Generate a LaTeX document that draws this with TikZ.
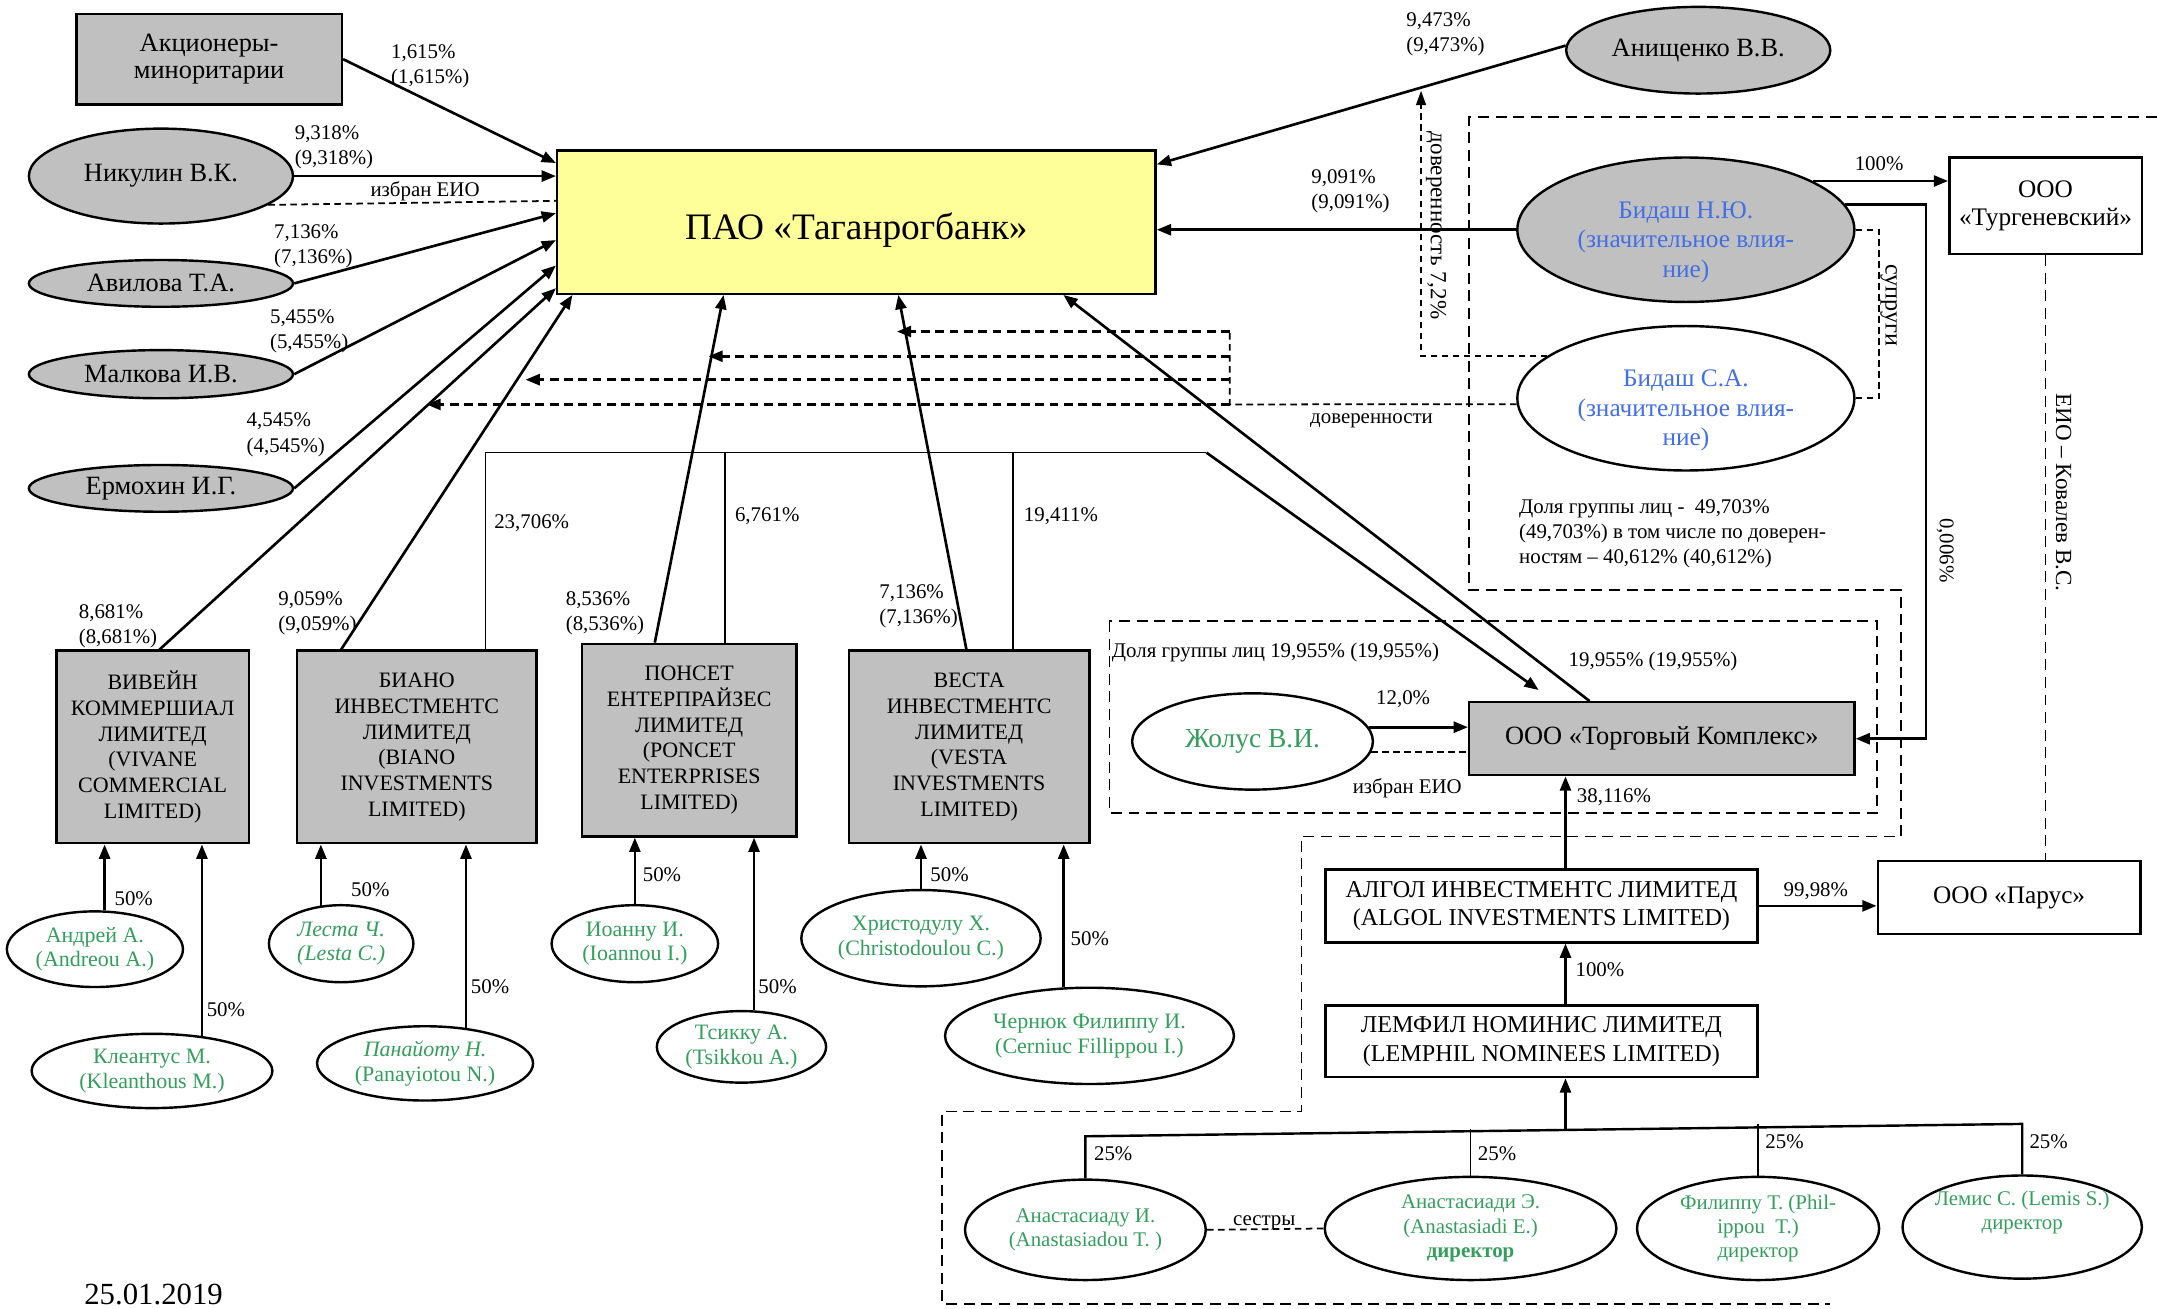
\documentclass[tikz,border=0pt]{standalone}
\usepackage{fontspec}
\setmainfont{Liberation Serif}
\usepackage{tikz}
\usetikzlibrary{shapes.geometric}
\usetikzlibrary{arrows.meta}

\definecolor{boxgray}{RGB}{192,192,192}
\definecolor{paoyellow}{RGB}{255,255,153}
\definecolor{ngreen}{RGB}{52,158,92}
\definecolor{nblue}{RGB}{66,110,230}

\newcommand{\pxu}{0.022cm}

\tikzset{
  grbox/.style={draw=black, line width=1.1pt, fill=boxgray, rectangle, align=center, inner sep=0pt, font=\fontsize{10}{11.7}\selectfont},
  wbox/.style={draw=black, line width=1.1pt, fill=white, rectangle, align=center, inner sep=0pt, font=\fontsize{11.5}{13}\selectfont},
  paobox/.style={draw=black, line width=1.1pt, fill=paoyellow, rectangle, inner sep=0pt},
  paotext/.style={font=\fontsize{17}{20}\selectfont, yshift=-5.5*\pxu},
  pers/.style={draw=black, line width=1.1pt, fill=boxgray, ellipse, align=center, inner xsep=-8pt, inner ysep=-2pt, font=\fontsize{12}{14}\selectfont},
  bidtext/.style={text=nblue, align=center, font=\fontsize{11.5}{13.5}\selectfont, yshift=-9*\pxu},
  own/.style={draw=black, line width=1.1pt, fill=white, ellipse, align=center, inner xsep=-8pt, inner ysep=-2pt, text=ngreen, font=\fontsize{10}{11.2}\selectfont},
  pct/.style={align=left, inner sep=0pt, font=\fontsize{9.5}{11.5}\selectfont},
  arr/.style={line width=1.2pt, -{Triangle[length=6.5pt,width=5pt]}},
  plainline/.style={line width=0.75pt},
  grpline/.style={line width=0.75pt, dash pattern=on 5pt off 3pt},
  dovarr/.style={line width=1.25pt, dash pattern=on 4pt off 2.5pt, -{Triangle[length=6.5pt,width=5pt]}},
  eioline/.style={line width=0.8pt, dash pattern=on 3pt off 2pt},
  eioarr/.style={line width=0.8pt, dash pattern=on 3pt off 2pt, -{Triangle[length=6.5pt,width=4.5pt]}}
}

\begin{document}
\begin{tikzpicture}[x=0.022cm, y=-0.022cm]
  \useasboundingbox (0,0) rectangle (1568,951);

  \node[grbox, font=\fontsize{12}{12.6}\selectfont, minimum width=193*\pxu, minimum height=66*\pxu] (minor) at (152,43) {Акционеры-\\миноритарии};
  \node[pers, minimum width=192*\pxu, minimum height=69*\pxu] (nik) at (117,128) {Никулин В.К.};
  \node[pers, minimum width=192*\pxu, minimum height=34*\pxu] (avil) at (117,206) {Авилова Т.А.};
  \node[pers, minimum width=192*\pxu, minimum height=35*\pxu] (malk) at (117,272) {Малкова И.В.};
  \node[pers, minimum width=192*\pxu, minimum height=34*\pxu] (erm) at (117,355) {Ермохин И.Г.};

  \node[paobox, minimum width=435*\pxu, minimum height=104*\pxu, label={[paotext]center:ПАО «Таганрогбанк»}] (pao) at (622.5,161.5) {};

  \node[pers, minimum width=192*\pxu, minimum height=63*\pxu] (anis) at (1234.5,36.5) {Анищенко В.В.};
  \node[pers, minimum width=245*\pxu, minimum height=105*\pxu, label={[bidtext]center:Бидаш Н.Ю.\\(значительное влия-\\ние)}] (bnu) at (1225.5,167) {};
  \node[pers, fill=white, minimum width=245*\pxu, minimum height=105*\pxu, label={[bidtext]center:Бидаш С.А.\\(значительное влия-\\ние)}] (bsa) at (1225.5,289.5) {};
  \node[wbox, minimum width=140*\pxu, minimum height=70*\pxu] (turg) at (1487,149.5) {ООО\\«Тургеневский»};

  \node[grbox, minimum width=140*\pxu, minimum height=140*\pxu] (viv) at (111,543) {ВИВЕЙН\\КОММЕРШИАЛ\\ЛИМИТЕД\\(VIVANE\\COMMERCIAL\\LIMITED)};
  \node[grbox, minimum width=174*\pxu, minimum height=140*\pxu] (bian) at (303,543) {БИАНО\\ИНВЕСТМЕНТС\\ЛИМИТЕД\\(BIANO\\INVESTMENTS\\LIMITED)};
  \node[grbox, minimum width=156*\pxu, minimum height=140*\pxu] (pons) at (501,538) {ПОНСЕТ\\ЕНТЕРПРАЙЗЕС\\ЛИМИТЕД\\(PONCET\\ENTERPRISES\\LIMITED)};
  \node[grbox, minimum width=175*\pxu, minimum height=140*\pxu] (vest) at (704.5,543) {ВЕСТА\\ИНВЕСТМЕНТС\\ЛИМИТЕД\\(VESTA\\INVESTMENTS\\LIMITED)};

  \node[own, minimum width=128*\pxu, minimum height=55*\pxu] (andr) at (69,690) {Андрей А.\\(Andreou A.)};
  \node[own, minimum width=175*\pxu, minimum height=54*\pxu] (klean) at (110.5,778.5) {Клеантус М.\\(Kleanthous M.)};
  \node[own, minimum width=105*\pxu, minimum height=56*\pxu] (lesta) at (248,686) {\textit{Леста Ч.}\\\textit{(Lesta C.)}};
  \node[own, minimum width=157*\pxu, minimum height=54*\pxu] (panai) at (309,773) {\textit{Панайоту Н.}\\(Panayiotou N.)};
  \node[own, minimum width=121*\pxu, minimum height=56*\pxu] (ioan) at (461.5,686) {Иоанну И.\\(Ioannou I.)};
  \node[own, minimum width=123*\pxu, minimum height=52*\pxu] (tsik) at (539,761) {Тсикку А.\\(Tsikkou A.)};
  \node[own, minimum width=174*\pxu, minimum height=70*\pxu] (hrist) at (669.5,682) {Христодулу Х.\\(Christodoulou C.)};
  \node[own, minimum width=210*\pxu, minimum height=70*\pxu] (chern) at (792,753) {Чернюк Филиппу И.\\(Cerniuc Fillippou I.)};

  \node[grbox, font=\fontsize{12}{14}\selectfont, minimum width=280*\pxu, minimum height=53*\pxu] (tk) at (1208,537) {ООО «Торговый Комплекс»};
  \node[own, font=\fontsize{12.5}{14}\selectfont, minimum width=175*\pxu, minimum height=70*\pxu] (zhol) at (910.5,539) {Жолус В.И.};
  \node[wbox, font=\fontsize{11}{13}\selectfont, minimum width=314*\pxu, minimum height=53*\pxu] (algol) at (1120.5,658.5) {АЛГОЛ ИНВЕСТМЕНТС ЛИМИТЕД\\(ALGOL INVESTMENTS LIMITED)};
  \node[wbox, minimum width=191*\pxu, minimum height=53*\pxu] (parus) at (1460.5,652.5) {ООО «Парус»};
  \node[wbox, font=\fontsize{11}{13}\selectfont, minimum width=314*\pxu, minimum height=52*\pxu] (lemf) at (1120.5,757) {ЛЕМФИЛ НОМИНИС ЛИМИТЕД\\(LEMPHIL NOMINEES LIMITED)};

  \node[own, font=\fontsize{9.5}{11}\selectfont, minimum width=175*\pxu, minimum height=73*\pxu] (anastI) at (789,894) {Анастасиаду И.\\(Anastasiadou T. )};
  \node[own, font=\fontsize{9.5}{11}\selectfont, minimum width=212*\pxu, minimum height=75*\pxu] (anastE) at (1069,893) {Анастасиади Э.\\(Anastasiadi E.)\\\textbf{директор}};
  \node[own, font=\fontsize{9.5}{11}\selectfont, minimum width=176*\pxu, minimum height=75*\pxu] (filip) at (1278,893) {Филиппу Т. (Phil-\\ippou~ T.)\\директор};
  \node[own, font=\fontsize{9.5}{11}\selectfont, minimum width=174*\pxu, minimum height=75*\pxu] (lemis) at (1470,892) {Лемис С. (Lemis S.)\\директор\\[4pt]};

  \coordinate (brL) at (353,329);
  \coordinate (brP) at (527,329);
  \coordinate (brV) at (736.6,329);
  \coordinate (brR) at (877,329);
  \coordinate (dv1) at (652,241);
  \coordinate (dv2) at (515,259);
  \coordinate (dv3) at (382,276);
  \coordinate (dv4) at (310,294);
  \coordinate (dvk) at (894,294);
  \coordinate (d72t) at (1033,66);
  \coordinate (q6) at (1400,150);
  \coordinate (stem) at (1138,821);
  \coordinate (treeL) at (789,826);
  \coordinate (treeR) at (1470,817);

  \draw[grpline] (1568,85) -- (1068,85) -- (1068,429) -- (1382,429) -- (1382,608) -- (946,608) -- (946,808) -- (685,808) -- (685,948) -- (1330,948);
  \draw[grpline] (806.5,451.5) rectangle (1364.5,591);

  \draw[arr] (minor.east) -- ([yshift=43*\pxu]pao.west);
  \draw[arr] (nik.east) -- (nik.east -| pao.west);
  \draw[eioline] (nik.-15) -- ([yshift=15.5*\pxu]pao.west);
  \draw[arr] (avil.east) -- ([yshift=6.5*\pxu]pao.west);
  \draw[arr] (malk.east) -- ([yshift=-13*\pxu]pao.west);
  \draw[arr] (erm.east) -- ([yshift=-31.5*\pxu]pao.west);
  \draw[arr] ([xshift=5*\pxu]viv.north) -- ([yshift=-48*\pxu]pao.west);
  \draw[arr] ([xshift=-55*\pxu]bian.north) -- ([xshift=12*\pxu]pao.south west);
  \draw[arr] ([xshift=-25*\pxu]pons.north) -- ([xshift=-96.5*\pxu]pao.south);
  \draw[arr] ([xshift=-2*\pxu]vest.north) -- ([xshift=30.5*\pxu]pao.south);
  \draw[arr] ([xshift=-52.5*\pxu]tk.north) -- ([xshift=150.5*\pxu]pao.south);
  \draw[arr] (anis.178) -- ([yshift=42*\pxu]pao.east);
  \draw[arr] (bnu.west) -- (bnu.west -| pao.east);

  \draw[plainline] (bian.north -| brL) -- (brL) -- (brR);
  \draw[plainline] (brP) -- (brP |- pons.north);
  \draw[plainline] (brV) -- (brV |- vest.north);
  \draw[arr] (brR) -- ([xshift=-89.5*\pxu, yshift=8*\pxu]tk.north);

  \draw[eioline] (bsa.182) -- (dvk) -- (dvk |- dv1);
  \draw[dovarr] (dvk) -- (dv4);
  \draw[dovarr] (dvk |- dv3) -- (dv3);
  \draw[dovarr] (dvk |- dv2) -- (dv2);
  \draw[dovarr] (dvk |- dv1) -- (dv1);
  \draw[eioarr] (bsa.163) -- (bsa.163 -| d72t) -- (d72t);
  \draw[eioline] (bnu.east) -- ++(17,0) |- (bsa.east);

  \draw[arr] (bnu.21) -- (bnu.21 -| turg.west);
  \draw[arr] (bnu.9) -- (bnu.9 -| q6) |- (tk.east);
  \draw[grpline] (turg.south) -- (turg.south |- parus.north);

  \draw[arr] (andr.76) -- (andr.76 |- viv.south);
  \draw[arr] (klean.35) -- (klean.35 |- viv.south);
  \draw[arr] (lesta.118) -- (lesta.118 |- bian.south);
  \draw[arr] (panai.41) -- (panai.41 |- bian.south);
  \draw[arr] (ioan.north) -- (ioan.north |- pons.south);
  \draw[arr] (tsik.71) -- (tsik.71 |- pons.south);
  \draw[arr] (hrist.north) -- (hrist.north |- vest.south);
  \draw[arr] (chern.118) -- (chern.118 |- vest.south);

  \draw[arr] (zhol.7) -- (zhol.7 -| tk.west);
  \draw[eioline] (zhol.-5) -- (zhol.-5 -| tk.west);
  \draw[arr] (algol.north -| stem) -- (tk.south -| stem);
  \draw[arr] (lemf.north -| stem) -- (algol.south -| stem);
  \draw[arr] (algol.east) -- (algol.east -| parus.west);
  \draw[arr] (stem) -- (lemf.south -| stem);

  \draw[line width=1.1pt] (anastI.north) -- (treeL) -- (treeR) -- (lemis.north);
  \draw[plainline] (anastE.north) -- (anastE.north |- stem);
  \draw[plainline] (filip.north) -- (filip.north |- treeR);
  \draw[eioline] (anastI.east) -- (anastE.west);

  \node[pct, anchor=west] (pMin) at (284,48) {1,615\%\\(1,615\%)};
  \node[pct, anchor=west] (pNik) at (214,107) {9,318\%\\(9,318\%)};
  \node[pct] (pEio) at (309,139) {избран ЕИО};
  \node[pct, anchor=west] (pAvil) at (199,179) {7,136\%\\(7,136\%)};
  \node[pct, anchor=west] (pMalk) at (196,241) {5,455\%\\(5,455\%)};
  \node[pct, anchor=west] (pErm) at (179,316) {4,545\%\\(4,545\%)};
  \node[pct, anchor=west] (pViv) at (57,455) {8,681\%\\(8,681\%)};
  \node[pct, anchor=west] (pBian) at (202,446) {9,059\%\\(9,059\%)};
  \node[pct, anchor=west] (pPons) at (411,446) {8,536\%\\(8,536\%)};
  \node[pct, anchor=west] (pVest) at (639,440.5) {7,136\%\\(7,136\%)};
  \node[pct, anchor=west] (pBrB) at (359,380.5) {23,706\%};
  \node[pct, anchor=west] (pBrP) at (534,375.5) {6,761\%};
  \node[pct, anchor=west] (pBrV) at (744,375.5) {19,411\%};
  \node[pct, anchor=west] (pAnis) at (1022,25) {9,473\%\\(9,473\%)};
  \node[pct, anchor=west] (pBnu) at (953,139) {9,091\%\\(9,091\%)};
  \node[pct] (p100) at (1366,119) {100\%};
  \node[pct] (pDov) at (997,306) {доверенности};
  \node[pct, anchor=west] (pGrp) at (1104,388) {Доля группы лиц -~ 49,703\%\\(49,703\%) в том числе по доверен-\\ностям – 40,612\% (40,612\%)};
  \node[pct, anchor=west] (pGrp2) at (808,474) {Доля группы лиц 19,955\% (19,955\%)};
  \node[pct, anchor=west] (pTk) at (1140,481) {19,955\% (19,955\%)};
  \node[pct] (pZhol) at (1020,508) {12,0\%};
  \node[pct] (pEio2) at (1023,573) {избран ЕИО};
  \node[pct, anchor=west] (pAlg) at (1146,579.5) {38,116\%};
  \node[pct, anchor=west] (pLem) at (1145,705) {100\%};
  \node[pct] (pPar) at (1320,648) {99,98\%};

  \node[pct, anchor=west] (pAndr) at (83,653) {50\%};
  \node[pct, anchor=west] (pKlean) at (150,734) {50\%};
  \node[pct, anchor=west] (pLesta) at (255,647) {50\%};
  \node[pct, anchor=west] (pPanai) at (342,717) {50\%};
  \node[pct, anchor=west] (pIoan) at (467,636) {50\%};
  \node[pct, anchor=west] (pTsik) at (551,717) {50\%};
  \node[pct, anchor=west] (pHrist) at (676,636) {50\%};
  \node[pct, anchor=west] (pChern) at (778,682) {50\%};
  \node[pct, anchor=west] (pAnI) at (795,838.5) {25\%};
  \node[pct, anchor=west] (pAnE) at (1074,838.5) {25\%};
  \node[pct, anchor=west] (pFil) at (1283,830) {25\%};
  \node[pct, anchor=west] (pLem2) at (1475,830) {25\%};
  \node[pct] (pSis) at (919,889) {сестры};

  \node[pct, font=\fontsize{10.5}{12}\selectfont, rotate=-90] (pD72) at (1044,164) {доверенность 7,2\%};
  \node[pct, font=\fontsize{11}{12}\selectfont, rotate=-90] (pSup) at (1373,222) {супруги};
  \node[pct, rotate=-90] (p006) at (1414,400) {0,006\%};
  \node[pct, font=\fontsize{10.5}{12}\selectfont, rotate=-90] (pKov) at (1500,358) {ЕИО – Ковалев В.С.};

  \node[pct, font=\fontsize{14}{16}\selectfont, anchor=west] (date) at (61,941) {25.01.2019};
\end{tikzpicture}
\end{document}
